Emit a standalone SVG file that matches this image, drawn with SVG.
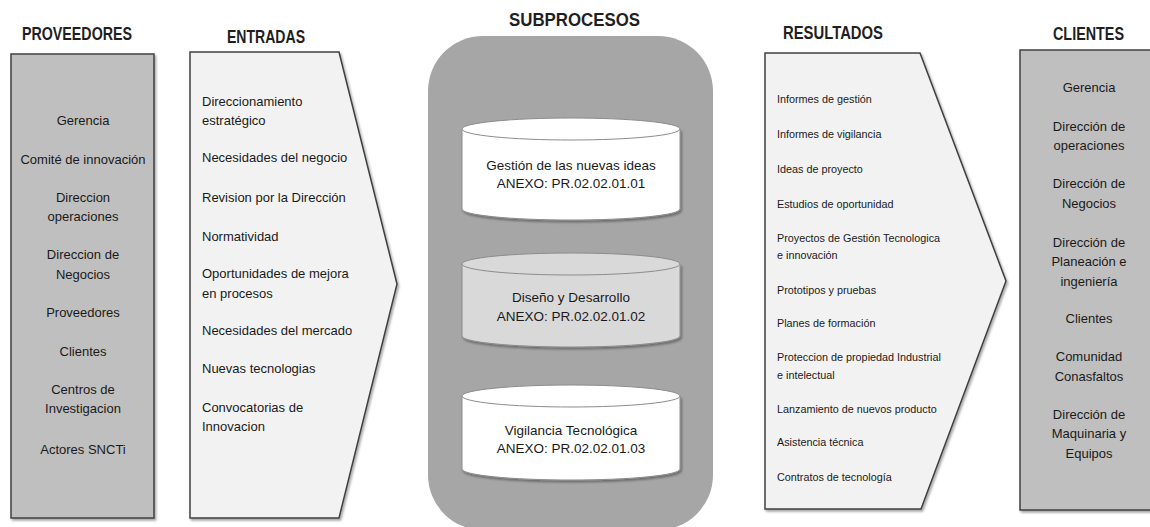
<svg xmlns="http://www.w3.org/2000/svg" width="1150" height="527" viewBox="0 0 1150 527">
<defs>
<filter id="sh" x="-10%" y="-10%" width="120%" height="120%">
<feDropShadow dx="1.5" dy="2" stdDeviation="1.2" flood-color="#000" flood-opacity="0.35"/>
</filter>
<style>
.hd{font-family:"Liberation Sans",Arial,sans-serif;font-weight:bold;font-size:18px;fill:#1f1f1f}
.t{font-family:"Liberation Sans",Arial,sans-serif;font-size:13px;fill:#1a1a1a}
.c{text-anchor:middle}
.r{font-family:"Liberation Sans",Arial,sans-serif;font-size:10.8px;fill:#1a1a1a}
.cy{font-family:"Liberation Sans",Arial,sans-serif;font-size:13.5px;fill:#1a1a1a;text-anchor:middle}
.box{stroke:#404040;stroke-width:1.5}
.cyl{stroke:#8c8c8c;stroke-width:1}
</style>
</defs>
<rect width="1150" height="527" fill="#ffffff"/>

<g id="proveedores">
<text class="hd" x="22" y="40" textLength="110" lengthAdjust="spacingAndGlyphs">PROVEEDORES</text>
<rect class="box" x="11" y="54" width="143" height="464" fill="#bfbfbf" filter="url(#sh)"/>
<g class="t c">
<text x="83" y="125">Gerencia</text>
<text x="83" y="164">Comité de innovación</text>
<text x="83" y="202">Direccion</text>
<text x="83" y="221">operaciones</text>
<text x="83" y="259">Direccion de</text>
<text x="83" y="279">Negocios</text>
<text x="83" y="317">Proveedores</text>
<text x="83" y="356">Clientes</text>
<text x="83" y="394">Centros de</text>
<text x="83" y="413">Investigacion</text>
<text x="83" y="454">Actores SNCTi</text>
</g>
</g>

<g id="entradas">
<text class="hd" x="227" y="43" textLength="78" lengthAdjust="spacingAndGlyphs">ENTRADAS</text>
<path class="box" d="M190 52 H339 L397 284 L339 518 H190 Z" fill="#f2f2f2" filter="url(#sh)"/>
<g class="t">
<text x="202" y="106">Direccionamiento</text>
<text x="202" y="125">estratégico</text>
<text x="202" y="162">Necesidades del negocio</text>
<text x="202" y="202">Revision por la Dirección</text>
<text x="202" y="241">Normatividad</text>
<text x="202" y="278">Oportunidades de mejora</text>
<text x="202" y="298">en procesos</text>
<text x="202" y="335">Necesidades del mercado</text>
<text x="202" y="373">Nuevas tecnologias</text>
<text x="202" y="412">Convocatorias de</text>
<text x="202" y="431">Innovacion</text>
</g>
</g>

<g id="subprocesos">
<text class="hd" x="509" y="26" font-size="17" textLength="131" lengthAdjust="spacingAndGlyphs">SUBPROCESOS</text>
<rect x="428" y="36" width="285" height="494" rx="55" ry="55" fill="#a6a6a6"/>
</g>

<g id="gestion-nuevas-ideas">
<path class="cyl" d="M462 129 V209 A109 11 0 0 0 680 209 V129" fill="#ffffff" filter="url(#sh)"/>
<ellipse class="cyl" cx="571" cy="129" rx="109" ry="11" fill="#ffffff"/>
<text class="cy" x="571" y="170">Gestión de las nuevas ideas</text>
<text class="cy" x="571" y="188">ANEXO: PR.02.02.01.01</text>
</g>

<g id="diseno-desarrollo">
<path class="cyl" d="M462 264 V336 A109 11 0 0 0 680 336 V264" fill="#d9d9d9" filter="url(#sh)"/>
<ellipse class="cyl" cx="571" cy="264" rx="109" ry="11" fill="#d9d9d9"/>
<text class="cy" x="571" y="302">Diseño y Desarrollo</text>
<text class="cy" x="571" y="321">ANEXO: PR.02.02.01.02</text>
</g>

<g id="vigilancia-tecnologica">
<path class="cyl" d="M462 396 V469 A109 11 0 0 0 680 469 V396" fill="#ffffff" filter="url(#sh)"/>
<ellipse class="cyl" cx="571" cy="396" rx="109" ry="11" fill="#ffffff"/>
<text class="cy" x="571" y="435">Vigilancia Tecnológica</text>
<text class="cy" x="571" y="453">ANEXO: PR.02.02.01.03</text>
</g>

<g id="resultados">
<text class="hd" x="783" y="39" textLength="100" lengthAdjust="spacingAndGlyphs">RESULTADOS</text>
<path class="box" d="M765 53 H920 L1006 281 L921 509 H765 Z" fill="#f2f2f2" filter="url(#sh)"/>
<g class="r">
<text x="777" y="103">Informes de gestión</text>
<text x="777" y="138">Informes de vigilancia</text>
<text x="777" y="173">Ideas de proyecto</text>
<text x="777" y="208">Estudios de oportunidad</text>
<text x="777" y="242">Proyectos de Gestión Tecnologica</text>
<text x="777" y="259">e innovación</text>
<text x="777" y="294">Prototipos y pruebas</text>
<text x="777" y="327">Planes de formación</text>
<text x="777" y="361">Proteccion de propiedad Industrial</text>
<text x="777" y="379">e intelectual</text>
<text x="777" y="413">Lanzamiento de nuevos producto</text>
<text x="777" y="446">Asistencia técnica</text>
<text x="777" y="481">Contratos de tecnología</text>
</g>
</g>

<g id="clientes">
<text class="hd" x="1053" y="40" textLength="71" lengthAdjust="spacingAndGlyphs">CLIENTES</text>
<rect class="box" x="1020" y="50" width="140" height="460" fill="#bfbfbf" filter="url(#sh)"/>
<g class="t c">
<text x="1089" y="92">Gerencia</text>
<text x="1089" y="131">Dirección de</text>
<text x="1089" y="150">operaciones</text>
<text x="1089" y="188">Dirección de</text>
<text x="1089" y="208">Negocios</text>
<text x="1089" y="247">Dirección de</text>
<text x="1089" y="266">Planeación e</text>
<text x="1089" y="286">ingeniería</text>
<text x="1089" y="323">Clientes</text>
<text x="1089" y="361">Comunidad</text>
<text x="1089" y="381">Conasfaltos</text>
<text x="1089" y="419">Dirección de</text>
<text x="1089" y="438">Maquinaria y</text>
<text x="1089" y="458">Equipos</text>
</g>
</g>
</svg>
